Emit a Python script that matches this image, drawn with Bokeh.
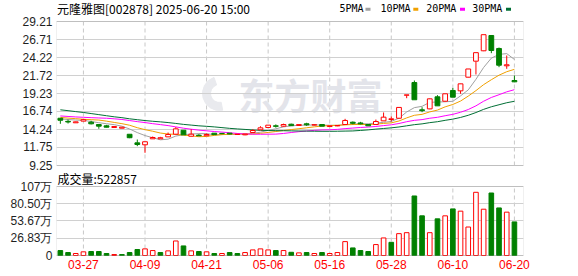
from bokeh.plotting import figure
from bokeh.models import ColumnDataSource, FixedTicker, Range1d, BoxAnnotation
from bokeh.embed import file_html
from bokeh.resources import INLINE
from bokeh.core.properties import value

# ---------------- data ----------------
title_text = "元隆雅图[002878] 2025-06-20 15:00"
volume_title = "成交量:522857"

dates = ["03-24", "03-25", "03-26", "03-27", "03-28", "03-31", "04-01", "04-02", "04-03", "04-07",
         "04-08", "04-09", "04-10", "04-11", "04-14", "04-15", "04-16", "04-17", "04-18", "04-21",
         "04-22", "04-23", "04-24", "04-25", "04-28", "04-29", "04-30", "05-06", "05-07", "05-08",
         "05-09", "05-12", "05-13", "05-14", "05-15", "05-16", "05-19", "05-20", "05-21", "05-22",
         "05-23", "05-26", "05-27", "05-28", "05-29", "05-30", "06-03", "06-04", "06-05", "06-06",
         "06-09", "06-10", "06-11", "06-12", "06-13", "06-16", "06-17", "06-18", "06-19", "06-20"]

opens = [15.80, 15.37, 15.17, 15.40, 15.25, 14.93, 14.75, 14.52, 14.42, 13.58,
         12.39, 12.12, 12.95, 12.95, 13.22, 13.59, 14.14, 13.31, 13.45, 13.37,
         13.73, 13.70, 13.73, 13.55, 13.50, 13.82, 14.20, 14.52, 14.75, 14.70,
         14.97, 14.80, 15.03, 14.86, 14.93, 14.65, 14.74, 14.93, 15.25, 15.15,
         14.93, 14.93, 15.44, 15.63, 15.80, 19.00, 20.75, 16.97, 17.10, 18.77,
         18.16, 19.65, 19.60, 21.49, 23.71, 25.15, 27.27, 25.47, 23.07, 21.03]
highs = [15.82, 15.60, 15.35, 15.72, 15.45, 14.95, 14.88, 14.68, 14.58, 13.58,
         12.85, 12.56, 13.27, 13.22, 13.82, 14.56, 14.14, 14.28, 13.59, 13.68,
         13.75, 13.72, 13.75, 13.62, 13.62, 14.28, 14.70, 14.86, 14.95, 15.05,
         15.05, 14.95, 15.17, 14.95, 14.95, 14.77, 14.82, 15.72, 15.35, 15.30,
         14.95, 15.62, 16.60, 16.05, 17.30, 19.03, 21.03, 17.33, 18.55, 19.00,
         19.20, 20.00, 20.60, 22.63, 24.89, 27.38, 27.30, 25.60, 24.50, 21.72]
lows = [15.03, 15.07, 15.15, 15.38, 14.95, 14.34, 14.52, 14.50, 14.40, 13.04,
        11.93, 11.01, 12.93, 12.93, 13.20, 13.50, 13.50, 13.30, 13.35, 13.35,
        13.50, 13.60, 13.58, 13.53, 13.45, 13.80, 14.18, 14.45, 14.50, 14.62,
        14.75, 14.75, 14.75, 14.82, 14.68, 14.60, 14.70, 14.90, 14.95, 14.95,
        14.72, 14.90, 15.44, 15.35, 15.75, 18.58, 18.36, 16.64, 17.05, 17.50,
        18.10, 18.70, 19.19, 21.45, 21.86, 25.10, 24.82, 22.88, 22.65, 20.80]
closes = [15.52, 15.28, 15.30, 15.60, 15.03, 14.70, 14.56, 14.65, 14.56, 13.10,
          12.16, 12.54, 13.13, 13.10, 13.55, 14.33, 13.50, 13.59, 13.37, 13.55,
          13.53, 13.66, 13.62, 13.58, 13.60, 14.10, 14.47, 14.84, 14.68, 14.93,
          14.78, 14.92, 14.89, 14.90, 14.70, 14.75, 14.80, 15.49, 15.10, 15.02,
          14.75, 15.35, 15.95, 15.72, 17.30, 19.03, 18.36, 16.85, 18.49, 17.52,
          19.19, 18.72, 20.57, 22.63, 24.89, 27.38, 25.19, 23.15, 23.21, 20.85]
# volume in 万 shares
volumes = [7.7, 4.6, 3.1, 5.7, 6.2, 6.2, 3.1, 1.5, 1.5, 4.6,
           9.3, 10.3, 7.7, 4.6, 7.2, 22.6, 14.9, 7.2, 6.2, 5.7,
           3.1, 3.1, 4.6, 3.1, 4.6, 8.7, 10.3, 8.7, 7.7, 7.7,
           5.0, 4.1, 4.6, 3.1, 4.6, 3.1, 4.6, 21.6, 11.8, 7.7,
           6.2, 17.0, 27.3, 20.5, 34.0, 35.5, 92.6, 61.7, 35.5, 57.0,
           61.7, 72.5, 69.0, 44.3, 98.3, 72.0, 97.2, 74.0, 67.4, 52.29]

ma5 = [15.72, 15.62, 15.55, 15.50, 15.35, 15.18, 15.04, 14.91, 14.70, 14.31,
       13.81, 13.40, 13.10, 12.81, 12.90, 13.33, 13.52, 13.61, 13.67, 13.67,
       13.51, 13.54, 13.55, 13.59, 13.60, 13.71, 13.87, 14.12, 14.34, 14.60,
       14.74, 14.83, 14.84, 14.88, 14.84, 14.83, 14.81, 14.93, 14.97, 15.03,
       15.03, 15.14, 15.23, 15.36, 15.81, 16.67, 17.27, 17.45, 18.01, 18.05,
       18.08, 18.15, 18.90, 19.73, 21.20, 22.84, 24.13, 24.65, 24.76, 23.95]
ma10 = [15.92, 15.82, 15.74, 15.66, 15.60, 15.55, 15.40, 15.22, 15.05, 14.83,
        14.49, 14.22, 14.00, 13.75, 13.61, 13.57, 13.46, 13.36, 13.24, 13.28,
        13.42, 13.53, 13.58, 13.63, 13.63, 13.61, 13.71, 13.83, 13.96, 14.10,
        14.23, 14.35, 14.48, 14.61, 14.72, 14.79, 14.82, 14.88, 14.93, 14.94,
        14.93, 14.98, 15.08, 15.16, 15.42, 15.85, 16.21, 16.34, 16.68, 16.93,
        17.38, 17.71, 18.18, 18.87, 19.63, 20.46, 21.14, 21.77, 22.25, 22.58]
ma20 = [16.12, 16.05, 15.98, 15.93, 15.88, 15.84, 15.80, 15.72, 15.63, 15.48,
        15.33, 15.20, 15.05, 14.92, 14.78, 14.60, 14.42, 14.28, 14.15, 14.06,
        13.96, 13.88, 13.79, 13.69, 13.62, 13.59, 13.58, 13.59, 13.60, 13.69,
        13.82, 13.94, 14.03, 14.12, 14.18, 14.20, 14.26, 14.36, 14.44, 14.52,
        14.58, 14.66, 14.78, 14.89, 15.07, 15.32, 15.51, 15.61, 15.80, 15.93,
        16.15, 16.34, 16.63, 17.01, 17.52, 18.16, 18.68, 19.06, 19.46, 19.76]
ma30 = [16.97, 16.85, 16.72, 16.60, 16.45, 16.30, 16.15, 16.00, 15.88, 15.72,
        15.60, 15.48, 15.38, 15.30, 15.20, 15.08, 14.95, 14.85, 14.75, 14.68,
        14.60, 14.50, 14.40, 14.32, 14.25, 14.18, 14.12, 14.10, 14.08, 14.07,
        14.05, 14.03, 14.02, 14.00, 13.99, 13.99, 14.00, 14.02, 14.04, 14.11,
        14.19, 14.29, 14.38, 14.47, 14.59, 14.75, 14.91, 15.02, 15.19, 15.32,
        15.51, 15.68, 15.91, 16.21, 16.59, 17.03, 17.39, 17.67, 17.95, 18.15]

ma_names = ["5PMA", "10PMA", "20PMA", "30PMA"]
ma_colors = ["#a0a0a0", "#f0a000", "#ff00ff", "#006f35"]

price_ticks = [9.25, 11.75, 14.24, 16.74, 19.23, 21.72, 24.22, 26.71, 29.21]
price_tick_labels = ["9.25", "11.75", "14.24", "16.74", "19.23", "21.72", "24.22", "26.71", "29.21"]
vol_ticks = [0, 26.83, 53.67, 80.50, 107.33]
vol_tick_labels = ["0", "26.83万", "53.67万", "80.50万", "107万"]
date_ticks = ["03-27", "04-09", "04-21", "05-06", "05-16", "05-28", "06-10", "06-20"]

# ---------------- layout constants (pixels) ----------------
RED = "#ff0000"
GREEN = "#008000"
BORDER = "#999999"
NUM_FONT = "Liberation Sans"
CJK_FONT = "Noto Sans CJK SC"

W, H = 578, 276
FL, FR = 56, 55          # left / right borders
FB = 20                  # bottom border (frame spans rows 0..256)
P_TOP, P_BOT = 21, 165   # price box rows
V_TOP, V_BOT = 186, 255  # volume box rows
X0, X1 = -0.5, 60.18
ppu = (W - FL - FR) / (X1 - X0)
frame_bottom = H - FB

p_ppy = (P_BOT - P_TOP) / (price_ticks[-1] - price_ticks[0])
v_ppy = (V_BOT - V_TOP) / (vol_ticks[-1] - vol_ticks[0])


def px2x(px):
    return X0 + (px - FL) / ppu


def py(row):   # canvas row -> price coordinate
    return price_ticks[-1] - (row - P_TOP) / p_ppy


def vy(row):   # canvas row -> volume coordinate
    return vol_ticks[-1] - (row - V_TOP) / v_ppy


n = len(dates)
idx = list(range(n))
tick_idx = [dates.index(d) for d in date_ticks]

p = figure(width=W, height=H, x_range=Range1d(X0, X1), y_range=Range1d(py(frame_bottom), py(0)),
           output_backend="svg", toolbar_location=None,
           min_border_left=FL, min_border_right=FR, min_border_top=0, min_border_bottom=FB)
p.extra_y_ranges = {"vol": Range1d(vy(frame_bottom), vy(0))}
p.outline_line_color = None
p.background_fill_color = "white"
p.border_fill_color = "white"

# one left axis carries both the price and the volume scale labels
vol_tick_pos = [round(py(V_TOP + (vol_ticks[-1] - t) * v_ppy), 6) for t in vol_ticks]
all_ticks = price_ticks + vol_tick_pos
overrides = {t: l for t, l in zip(price_ticks, price_tick_labels)}
overrides.update({t: l for t, l in zip(vol_tick_pos, vol_tick_labels)})

for ax in list(p.xaxis) + list(p.yaxis):
    ax.axis_line_color = None
    ax.major_tick_line_color = None
    ax.minor_tick_line_color = None
    ax.major_tick_out = 0
    ax.major_tick_in = 0
    ax.major_label_text_font = NUM_FONT
    ax.major_label_text_font_size = "12px"
p.yaxis.ticker = FixedTicker(ticks=all_ticks)
p.yaxis.major_label_overrides = overrides
p.yaxis.major_label_standoff = 4
p.yaxis.major_label_text_color = "#1f1f1f"
p.xaxis.ticker = FixedTicker(ticks=tick_idx)
p.xaxis.major_label_overrides = {i: d for i, d in zip(tick_idx, date_ticks)}
p.xaxis.major_label_standoff = 3
p.xaxis.major_label_text_color = RED
p.ygrid.grid_line_color = "#d0d0d0"
p.xgrid.visible = False

# dashed vertical date lines, price box and volume box
p.segment(x0=tick_idx, y0=[price_ticks[0]] * len(tick_idx), x1=tick_idx,
          y1=[price_ticks[-1]] * len(tick_idx), line_color="#c8c8c8", line_dash="4 3",
          line_width=1, level="underlay")
p.segment(x0=tick_idx, y0=[vol_ticks[0]] * len(tick_idx), x1=tick_idx,
          y1=[vol_ticks[-1]] * len(tick_idx), line_color="#c8c8c8", line_dash="4 3",
          line_width=1, level="underlay", y_range_name="vol")

# watermark
wm_y = py(93)
p.annular_wedge(x=[px2x(219)], y=[wm_y], inner_radius=9, outer_radius=17,
                inner_radius_units="screen", outer_radius_units="screen",
                start_angle=1.9, end_angle=4.9, color="#e9eaee", level="underlay")
p.text(x=[px2x(310)], y=[wm_y], text=["东方财富"], text_font=value(CJK_FONT),
       text_font_size="36px", text_font_style="bold", text_color="#e3e4ea",
       text_align="center", text_baseline="middle", level="underlay")

# MA lines
for vals, col in zip([ma5, ma10, ma20, ma30], ma_colors):
    p.line(idx, vals, line_color=col, line_width=1)

# candles
up_i = [i for i in idx if closes[i] >= opens[i]]
dn_i = [i for i in idx if closes[i] < opens[i]]


def cdict(sel):
    return dict(x=sel,
                top=[max(opens[i], closes[i]) for i in sel],
                bottom=[min(opens[i], closes[i]) for i in sel],
                high=[highs[i] for i in sel],
                low=[lows[i] for i in sel])


s_up = ColumnDataSource(cdict(up_i))
s_dn = ColumnDataSource(cdict(dn_i))
for s, col, fill in [(s_up, RED, "white"), (s_dn, GREEN, GREEN)]:
    p.segment(x0="x", y0="high", x1="x", y1="top", source=s, line_color=col, line_width=1)
    p.segment(x0="x", y0="bottom", x1="x", y1="low", source=s, line_color=col, line_width=1)
    p.vbar(x="x", top="top", bottom="bottom", width=0.62, source=s,
           fill_color=fill, line_color=col, line_width=1)

# volume bars (red when close >= previous close)
vol_up = [(closes[i] >= (closes[i - 1] if i > 0 else opens[i])) for i in idx]
vu = ColumnDataSource(dict(x=[i for i in idx if vol_up[i]], top=[volumes[i] for i in idx if vol_up[i]]))
vd = ColumnDataSource(dict(x=[i for i in idx if not vol_up[i]], top=[volumes[i] for i in idx if not vol_up[i]]))
p.vbar(x="x", top="top", bottom=0, width=0.6, source=vu, fill_color="white",
       line_color=RED, line_width=1, y_range_name="vol")
p.vbar(x="x", top="top", bottom=0, width=0.6, source=vd, fill_color=GREEN,
       line_color=GREEN, line_width=1, y_range_name="vol")

p.add_layout(BoxAnnotation(left=X0, right=X1, bottom=price_ticks[0], top=price_ticks[-1],
                           fill_alpha=0, line_color=BORDER, line_width=1))
p.add_layout(BoxAnnotation(left=X0, right=X1, bottom=vol_ticks[0], top=vol_ticks[-1],
                           fill_alpha=0, line_color=BORDER, line_width=1, y_range_name="vol"))

# title, legend and volume caption
title_y = py(8)
p.text(x=[px2x(56.5)], y=[title_y], text=[title_text], text_font=value(CJK_FONT),
       text_font_size="12px", text_color="#000000", text_baseline="middle")
leg_text_px = [339, 380, 425.7, 471.7]
leg_box_px = [367.5, 415.3, 462, 508]
p.text(x=[px2x(t) for t in leg_text_px], y=[title_y] * 4, text=ma_names,
       text_font=value("DejaVu Sans Mono"), text_font_size="10px",
       text_color="#000000", text_baseline="middle")
p.rect(x=[px2x(b) for b in leg_box_px], y=[py(8.7)] * 4, width=5, height=3,
       width_units="screen", height_units="screen", fill_color=ma_colors, line_color=None)
p.text(x=[px2x(57)], y=[vy(177.7)], text=[volume_title], text_font=value(CJK_FONT),
       text_font_size="12px", text_color="#000000", text_baseline="middle", y_range_name="vol")

open("out.html", "w").write(file_html(p, INLINE))
